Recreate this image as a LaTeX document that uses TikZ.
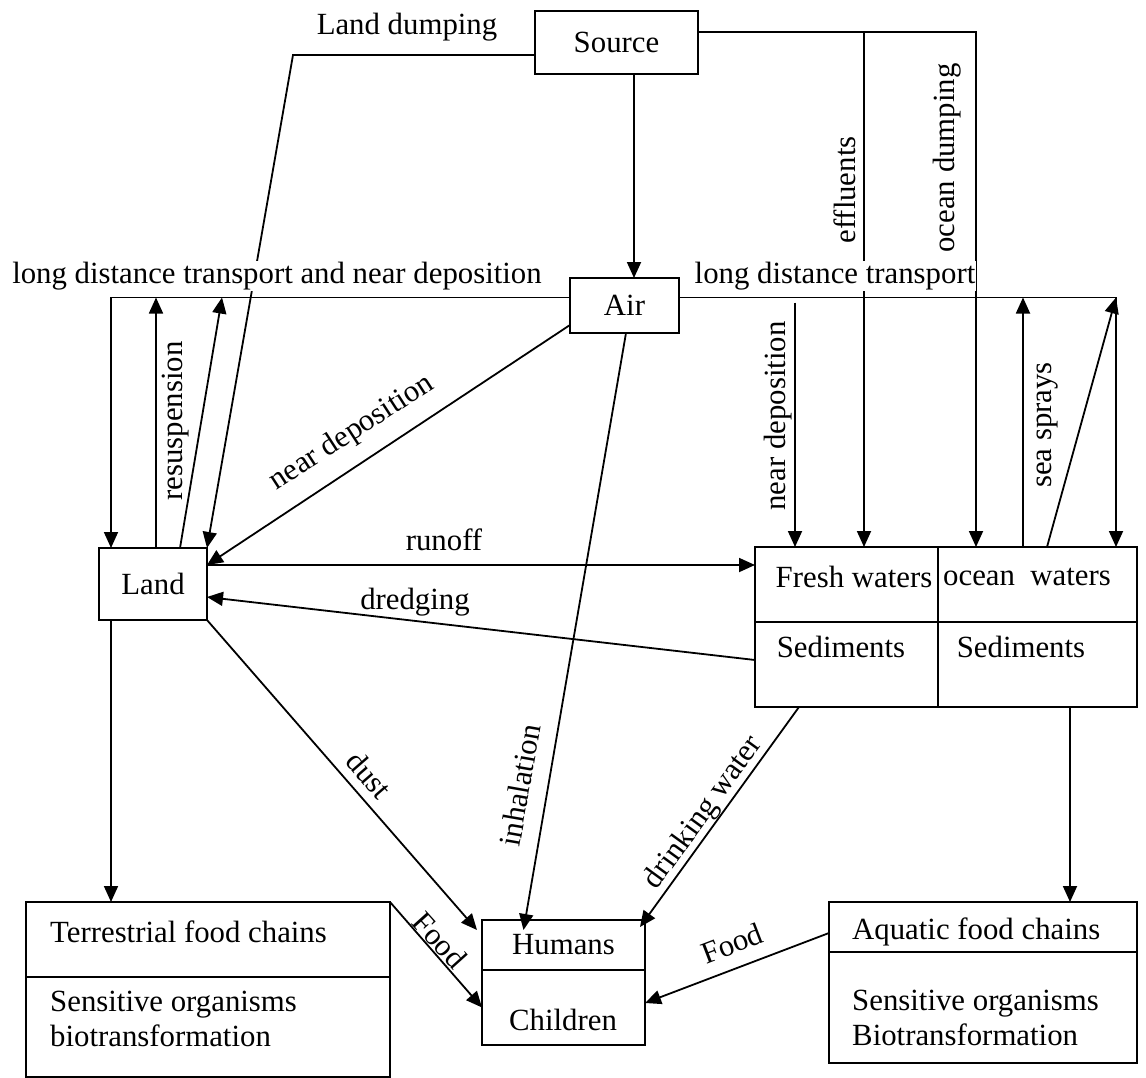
\documentclass[tikz,border=0pt]{standalone}
\usepackage{fontspec}
\setmainfont{Liberation Serif}
\usetikzlibrary{arrows.meta, positioning}

\begin{document}
\begin{tikzpicture}[
  x=1pt, y=-1pt,
  every node/.style={font=\fontsize{30.8}{35}\selectfont},
  box/.style={draw, rectangle, line width=1.9pt, inner sep=0pt, outer sep=0pt, anchor=north west},
  lbl/.style={inner sep=1pt},
  arrow/.style={line width=1.8pt, -{Triangle[length=16pt, width=14pt]}}
]
  \useasboundingbox (0,0) rectangle (1146,1078);

  % boxes
  \node (src) [box, minimum width=163pt, minimum height=63pt] at (535,11) {Source};
  \node (air) [box, minimum width=109pt, minimum height=55pt] at (570,278) {Air};
  \node (land) [box, minimum width=108pt, minimum height=72pt] at (99,548) {Land};

  \node (fresh) [box, minimum width=183pt, minimum height=75pt] at (755,547) {};
  \node (ocean) [box, minimum width=199pt, minimum height=75pt, right=0pt of fresh] {};
  \node (sedf) [box, minimum width=183pt, minimum height=85pt, below=0pt of fresh] {};
  \node (sedo) [box, minimum width=199pt, minimum height=85pt, below=0pt of ocean] {};

  \node (terr) [box, minimum width=364pt, minimum height=75pt] at (26,902) {};
  \node (terrb) [box, minimum width=364pt, minimum height=100pt, below=0pt of terr] {};
  \node (hum) [box, minimum width=163pt, minimum height=50pt] at (482,920) {Humans};
  \node (chl) [box, minimum width=163pt, minimum height=75pt, below=0pt of hum] {};
  \node (aq) [box, minimum width=308pt, minimum height=50pt] at (829,902) {};
  \node (aqb) [box, minimum width=308pt, minimum height=111pt, below=0pt of aq] {};

  % texts in the split boxes
  \node (freshtxt) [lbl] at (854,577) {Fresh waters};
  \node (oceantxt) [lbl] at (1027,577) {ocean\ \ waters};
  \node (sedftxt) [lbl] at (841,647) {Sediments};
  \node (sedotxt) [lbl] at (1021,647) {Sediments};
  \node (terrtxt) [lbl, anchor=west] at (49,932) {Terrestrial food chains};
  \node (terrbtxt) [lbl, anchor=west, align=left] at (49,1019) {Sensitive organisms\\biotransformation};
  \node (chltxt) [lbl] at (563,1020) {Children};
  \node (aqtxt) [lbl, anchor=west] at (851,932) {Aquatic food chains};
  \node (aqbtxt) [lbl, anchor=west, align=left] at (851,1018) {Sensitive organisms\\Biotransformation};

  % helper points
  \coordinate (srcout) at ([yshift=10.5pt]src.east);
  \coordinate (airoutL) at ([yshift=8pt]air.west);
  \coordinate (airoutR) at ([yshift=8pt]air.east);
  \coordinate (effx) at ([xshift=17.5pt]fresh.north);
  \coordinate (ndx) at ([xshift=-51.5pt]fresh.north);
  \coordinate (upx) at ([xshift=-14.5pt]ocean.north);
  \coordinate (sprayx) at ([xshift=-21pt]ocean.north east);
  \coordinate (resx) at ([xshift=3pt]land.north);

  % from the source
  \draw [arrow] ([xshift=17.5pt]src.south) -- ([xshift=9.5pt]air.north);
  \draw [arrow] ([yshift=-12.5pt]src.west) -- ++(-242,0) -- (land.north east);
  \draw [arrow] (srcout) -| ([xshift=-61.5pt]ocean.north);
  \draw [arrow] (srcout -| effx) -- (effx);

  % air and land
  \draw [arrow] (airoutL) -| ([xshift=-42pt]land.north);
  \draw [arrow] (resx) -- (resx |- airoutL);
  \draw [arrow] ([xshift=27pt]land.north) -- ++(42,-250.5);
  \draw [arrow] ([yshift=8pt]air.south west) -- ([yshift=-17pt]land.north east);
  \draw [arrow] ([yshift=19pt]land.east) -- ([yshift=19.5pt]fresh.west);
  \draw [arrow] ([yshift=4.5pt]sedf.west) -- ([yshift=-13pt]land.east);

  % air and waters
  \draw [arrow] (airoutR) -| (sprayx);
  \draw [arrow] (ndx |- airoutR) ++(0,5) -- (ndx);
  \draw [arrow] (upx) -- (upx |- airoutR);
  \draw [arrow] ([xshift=9.5pt]ocean.north) -- (sprayx |- airoutR);

  % to food chains and humans
  \draw [arrow] ([xshift=-42pt]land.south) -- ++(0,282);
  \draw [arrow] (land.south east) -- ([xshift=-5pt, yshift=-10pt]hum.north west);
  \draw [arrow] ([xshift=1.5pt]air.south) -- ([xshift=-40pt, yshift=-10pt]hum.north);
  \draw [arrow] ([xshift=-47.5pt]sedf.south) -- ([xshift=-5pt, yshift=-7pt]hum.north east);
  \draw [arrow] ([xshift=32.5pt]sedo.south) -- ++(0,195);
  \draw [arrow] (terr.north east) -- (chl.west);
  \draw [arrow] ([yshift=-6pt]aq.west) -- ([yshift=4.5pt]chl.east);

  % labels
  \node (ldump) [lbl] at (407,27) {Land dumping};
  \node (ldtL) [lbl, fill=white] at (277,276) {long distance transport and near deposition};
  \node (ldtR) [lbl, fill=white] at (835,276) {long distance transport};
  \node (resus) [lbl, rotate=90] at (176,421) {resuspension};
  \node (ndepL) [lbl, rotate=33] at (352,433) {near deposition};
  \node (runoff) [lbl] at (444,540) {runoff};
  \node (dredg) [lbl] at (415,602) {dredging};
  \node (effl) [lbl, rotate=90] at (845,190) {effluents};
  \node (odump) [lbl, rotate=90] at (947,158) {ocean dumping};
  \node (ndepR) [lbl, rotate=90] at (778,416) {near deposition};
  \node (spray) [lbl, rotate=90] at (1048,425) {sea sprays};
  \node (dust) [lbl, rotate=-49] at (369,775) {dust};
  \node (inhal) [lbl, rotate=80] at (520,785) {inhalation};
  \node (drink) [lbl, rotate=54] at (704,813) {drinking water};
  \node (foodT) [lbl, rotate=-48] at (440,940) {Food};
  \node (foodA) [lbl, rotate=21] at (732,943) {Food};
\end{tikzpicture}
\end{document}
